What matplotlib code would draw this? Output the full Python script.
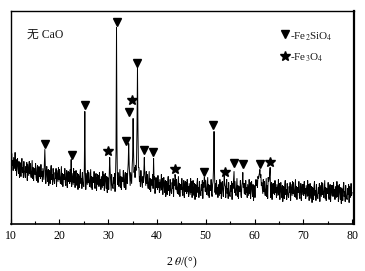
import numpy as np
import matplotlib
matplotlib.use('Agg')
import matplotlib.pyplot as plt

# ---------------- data ----------------
two_theta_start = 10.0   # degrees
two_theta_step = 0.1     # degrees

intensity = [
    67, 56, 70, 58, 63, 53, 66, 60, 55, 71,   # 10
    53, 64, 48, 60, 65, 55, 50, 62, 46, 61,   # 11
    58, 47, 60, 65, 51, 56, 46, 62, 53, 49,   # 12
    46, 57, 51, 61, 43, 59, 54, 48, 62, 50,   # 13
    60, 49, 46, 54, 63, 45, 56, 43, 55, 51,   # 14
    49, 60, 46, 43, 55, 58, 41, 53, 57, 47,   # 15
    56, 45, 59, 47, 52, 42, 55, 49, 44, 60,   # 16
    74, 56, 40, 52, 57, 47, 42, 54, 38, 53,   # 17
    51, 40, 53, 58, 44, 49, 39, 55, 46, 42,   # 18
    40, 51, 45, 55, 37, 53, 48, 42, 56, 44,   # 19
    54, 43, 40, 48, 57, 39, 50, 37, 49, 45,   # 20
    44, 55, 41, 38, 50, 53, 36, 48, 52, 42,   # 21
    51, 40, 54, 42, 64, 37, 50, 44, 39, 55,   # 22
    41, 52, 36, 48, 53, 43, 38, 50, 34, 49,   # 23
    47, 36, 49, 54, 40, 45, 35, 51, 42, 38,   # 24
    37, 55, 112, 52, 34, 50, 45, 39, 53, 41,  # 25
    51, 40, 37, 45, 54, 36, 47, 34, 46, 42,   # 26
    41, 52, 38, 35, 47, 50, 33, 45, 49, 39,   # 27
    48, 37, 51, 39, 44, 34, 47, 41, 36, 52,   # 28
    38, 49, 33, 45, 50, 40, 35, 47, 31, 46,   # 29
    45, 34, 47, 66, 52, 43, 33, 49, 40, 36,   # 30
    35, 46, 40, 50, 32, 48, 72, 196, 76, 39,  # 31
    51, 40, 37, 45, 54, 36, 47, 34, 46, 42,   # 32
    42, 53, 39, 36, 48, 51, 34, 46, 50, 40,   # 33
    52, 60, 80, 58, 48, 38, 51, 45, 40, 56,   # 34
    66, 105, 70, 51, 56, 46, 58, 53, 62, 95,  # 35
    156, 92, 56, 56, 42, 47, 37, 53, 44, 40,  # 36
    36, 47, 41, 51, 66, 49, 44, 38, 52, 40,   # 37
    49, 38, 35, 43, 52, 34, 45, 32, 44, 40,   # 38
    38, 49, 35, 65, 44, 47, 30, 42, 46, 36,   # 39
    45, 34, 48, 36, 41, 31, 44, 38, 33, 49,   # 40
    34, 45, 29, 41, 46, 36, 31, 43, 27, 42,   # 41
    40, 29, 42, 47, 33, 38, 28, 44, 35, 31,   # 42
    30, 41, 35, 45, 27, 43, 38, 49, 46, 34,   # 43
    44, 33, 30, 38, 47, 29, 40, 27, 39, 35,   # 44
    34, 45, 31, 28, 40, 43, 26, 38, 42, 32,   # 45
    41, 30, 44, 32, 37, 27, 40, 34, 29, 45,   # 46
    31, 42, 26, 38, 43, 33, 28, 40, 24, 39,   # 47
    38, 27, 40, 45, 31, 36, 26, 42, 33, 29,   # 48
    28, 39, 33, 43, 25, 41, 36, 46, 44, 32,   # 49
    43, 32, 29, 37, 46, 28, 39, 26, 38, 34,   # 50
    33, 44, 30, 27, 39, 42, 56, 92, 50, 31,   # 51
    40, 29, 43, 31, 36, 26, 39, 33, 28, 44,   # 52
    30, 41, 25, 37, 42, 32, 27, 39, 47, 38,   # 53
    37, 26, 39, 44, 30, 35, 25, 41, 32, 28,   # 54
    27, 38, 32, 42, 24, 40, 35, 44, 52, 31,   # 55
    42, 31, 28, 36, 45, 27, 38, 25, 37, 33,   # 56
    32, 43, 29, 26, 38, 41, 51, 36, 40, 30,   # 57
    40, 29, 43, 31, 36, 26, 39, 33, 28, 44,   # 58
    30, 41, 25, 37, 42, 32, 27, 39, 23, 38,   # 59
    37, 26, 39, 44, 38, 43, 36, 47, 45, 48,   # 60
    50, 54, 46, 49, 38, 41, 36, 30, 44, 32,   # 61
    42, 31, 28, 36, 45, 27, 38, 25, 46, 42,   # 62
    44, 48, 56, 26, 38, 41, 24, 36, 40, 30,   # 63
    40, 29, 43, 31, 36, 26, 39, 33, 28, 44,   # 64
    29, 40, 24, 36, 41, 31, 26, 38, 22, 37,   # 65
    36, 25, 38, 43, 29, 34, 24, 40, 31, 27,   # 66
    26, 37, 31, 41, 23, 39, 34, 28, 42, 30,   # 67
    41, 30, 27, 35, 44, 26, 37, 24, 36, 32,   # 68
    31, 42, 28, 25, 37, 40, 23, 35, 39, 29,   # 69
    39, 28, 42, 30, 35, 25, 38, 32, 27, 43,   # 70
    28, 39, 23, 35, 40, 30, 25, 37, 21, 36,   # 71
    35, 24, 37, 42, 28, 33, 23, 39, 30, 26,   # 72
    25, 36, 30, 40, 22, 38, 33, 27, 41, 29,   # 73
    40, 29, 26, 34, 43, 25, 36, 23, 35, 31,   # 74
    30, 41, 27, 24, 36, 39, 22, 34, 38, 28,   # 75
    38, 27, 41, 29, 34, 24, 37, 31, 26, 42,   # 76
    27, 38, 22, 34, 39, 29, 24, 36, 20, 35,   # 77
    34, 23, 36, 41, 27, 32, 22, 38, 29, 25,   # 78
    24, 35, 29, 39, 21, 37, 32, 26, 40, 28,   # 79
    31,                                       # 80
]

# peak markers: Fe2SiO4 (triangles) and Fe3O4 (stars)
fayalite_2theta = [17.0, 22.5, 25.3, 31.7, 33.65, 34.2, 36.0, 37.4, 39.25,
                   49.7, 51.4, 55.8, 57.6, 61.1]
fayalite_level = [80, 69, 118, 201, 83, 111, 160, 74, 72, 52, 98, 61, 60, 60]
magnetite_2theta = [30.0, 34.8, 43.7, 53.95, 63.2]
magnetite_level = [73, 123, 55, 52, 62]

x_ticks = [10, 20, 30, 40, 50, 60, 70, 80]
x_minor_ticks = [15, 25, 35, 45, 55, 65, 75]
sample_label = '无 CaO'
legend_labels = ['-Fe$_2$SiO$_4$', '-Fe$_3$O$_4$']
x_label = '2 $\\theta$/(°)'

# ---------------- drawing ----------------
plt.rcParams['font.family'] = ['Liberation Serif', 'Noto Sans CJK SC']
plt.rcParams['mathtext.fontset'] = 'stix'

W, H = 365, 271
fig = plt.figure(figsize=(W / 100, H / 100), dpi=100)
ax = fig.add_axes([10.7 / W, (H - 223.5) / H, 342.8 / W, 212.5 / H])

two_theta = two_theta_start + two_theta_step * np.arange(len(intensity))
ax.plot(two_theta, intensity, color='black', lw=0.7)

ax.plot(fayalite_2theta, fayalite_level, linestyle='none', marker='v',
        markersize=5.8, color='black')
ax.plot(magnetite_2theta, magnetite_level, linestyle='none', marker='*',
        markersize=7.2, color='black')

ax.set_xlim(10, 80.3)
ax.set_ylim(0, 212.5)
ax.set_xticks(x_ticks)
ax.set_xticks(x_minor_ticks, minor=True)
ax.set_yticks([])
ax.tick_params(axis='x', which='major', direction='in', length=3.5, width=0.8,
               labelsize=8.5, pad=5)
ax.tick_params(axis='x', which='minor', direction='in', length=2, width=0.8)
for s in ax.spines.values():
    s.set_linewidth(1.0)
ax.spines['right'].set_linewidth(1.6)
ax.spines['bottom'].set_linewidth(1.2)

ax.set_xlabel(x_label, fontsize=8.5)
ax.xaxis.set_label_coords(0.5, -0.145)

ax.text(0.048, 0.887, sample_label, transform=ax.transAxes, fontsize=8.5,
        va='center', ha='left', color='#1a1a1a')

# legend
ax.plot([0.799], [0.89], transform=ax.transAxes, marker='v', markersize=5.8,
        color='black', linestyle='none', clip_on=False)
ax.plot([0.799], [0.79], transform=ax.transAxes, marker='*', markersize=7.2,
        color='black', linestyle='none', clip_on=False)
ax.text(0.815, 0.878, legend_labels[0], transform=ax.transAxes, fontsize=8,
        va='center', ha='left', color='#1a1a1a')
ax.text(0.815, 0.779, legend_labels[1], transform=ax.transAxes, fontsize=8,
        va='center', ha='left', color='#1a1a1a')

fig.savefig('out.png', dpi=100)
